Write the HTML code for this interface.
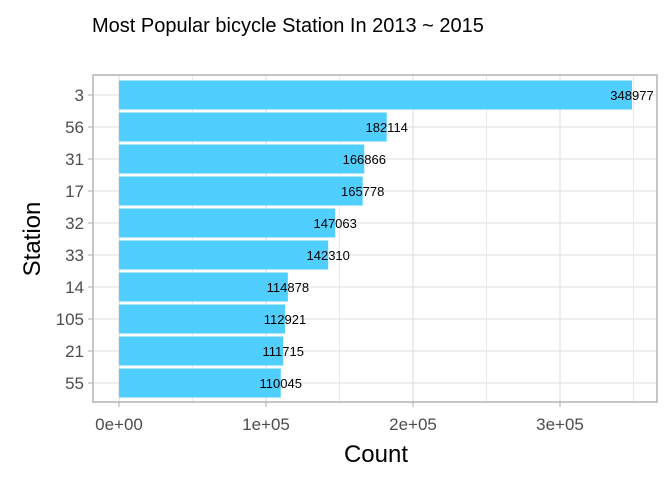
<!DOCTYPE html>
<html><head><meta charset="utf-8"><style>
body{margin:0;background:#fff}
svg{display:block;font-family:"Liberation Sans",sans-serif}
</style></head><body>
<svg id="c" width="672" height="480">
<text x="92" y="32" font-size="20" fill="#000">Most Popular bicycle Station In 2013 ~ 2015</text>
<g id="grid"></g><g id="bars"></g><g id="labels"></g>
<rect x="93" y="75" width="564" height="327" fill="none" stroke="#b3b3b3" stroke-width="1.5"/>
<g id="axes"></g>
<text x="376" y="462" font-size="24" text-anchor="middle" fill="#000">Count</text>
<text transform="translate(40,239) rotate(-90)" font-size="24" text-anchor="middle" fill="#000">Station</text>
</svg>
<script>
const stations=["3","56","31","17","32","33","14","105","21","55"];
const counts=[348977,182114,166866,165778,147063,142310,114878,112921,111715,110045];
const xTicks=[0,100000,200000,300000];
const xTickLabels=["0e+00","1e+05","2e+05","3e+05"];
const NS="http://www.w3.org/2000/svg";
const x=v=>119+v*147/100000;
const y=i=>95+i*32;
function mk(tag,attrs,parent){const e=document.createElementNS(NS,tag);for(const k in attrs)e.setAttribute(k,attrs[k]);document.getElementById(parent).appendChild(e);return e;}
const minor=[50000,150000,250000,350000];
minor.forEach(v=>{const l=mk("line",{x1:x(v),x2:x(v),y1:75,y2:402,stroke:"#e5e5e5","stroke-width":0.8},"grid");

});
xTicks.forEach((v,i)=>{const l=mk("line",{x1:x(v),x2:x(v),y1:75,y2:402,stroke:"#dedede","stroke-width":1.1},"grid");


const t=mk("line",{x1:x(v),x2:x(v),y1:402,y2:407,stroke:"#b3b3b3","stroke-width":1.1},"axes");


const tx=mk("text",{x:x(v),y:430,"font-size":17,"text-anchor":"middle",fill:"#4d4d4d"},"axes");tx.textContent=xTickLabels[i];

});
stations.forEach((s,i)=>{const l=mk("line",{x1:93,x2:657,y1:y(i),y2:y(i),stroke:"#dedede","stroke-width":1.1},"grid");


const t=mk("line",{x1:88,x2:93,y1:y(i),y2:y(i),stroke:"#b3b3b3","stroke-width":1.1},"axes");


const tx=mk("text",{x:84,y:y(i)+6,"font-size":17,"text-anchor":"end",fill:"#4d4d4d"},"axes");tx.textContent=s;


const b=mk("rect",{x:x(0),y:y(i)-14.5,width:x(counts[i])-x(0),height:29,fill:"#50cfff"},"bars");


const lb=mk("text",{x:x(counts[i]),y:y(i)+5,"font-size":13,"text-anchor":"middle",fill:"#000"},"labels");lb.textContent=counts[i];

});
</script>
</body></html>
